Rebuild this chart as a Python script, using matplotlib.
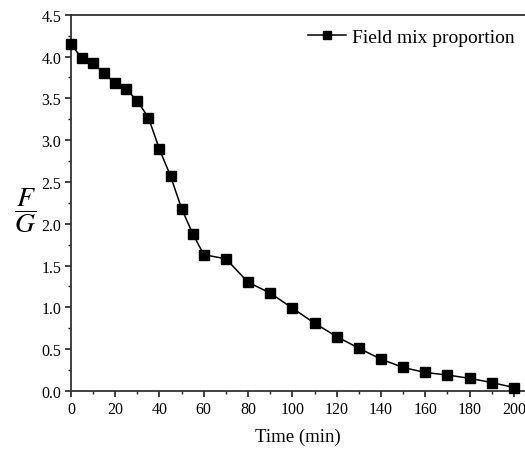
import matplotlib
matplotlib.use("Agg")
import matplotlib.pyplot as plt
from matplotlib.ticker import MultipleLocator

plt.rcParams['font.family'] = ['Liberation Serif', 'DejaVu Serif']
plt.rcParams['mathtext.fontset'] = 'stix'

# time (min) and F/G ratio
time = [0, 5, 10, 15, 20, 25, 30, 35, 40, 45, 50, 55, 60, 70, 80, 90,
        100, 110, 120, 130, 140, 150, 160, 170, 180, 190, 200]
ratio = [4.15, 3.98, 3.92, 3.80, 3.68, 3.61, 3.47, 3.27, 2.89, 2.57, 2.18,
         1.88, 1.63, 1.58, 1.30, 1.17, 0.99, 0.81, 0.65, 0.51, 0.38, 0.28,
         0.22, 0.19, 0.15, 0.10, 0.04]
label = "Field mix proportion"

fig = plt.figure(figsize=(5.25, 4.52), dpi=100)
ax = fig.add_axes([0.135, 0.133, 0.865, 0.832])

ax.plot(time, ratio, color="black", lw=1.1, marker="s", ms=7.5,
        label=label, clip_on=False, zorder=3)

ax.set_xlim(0, 205)
ax.set_ylim(0, 4.5)
ax.xaxis.set_major_locator(MultipleLocator(20))
ax.xaxis.set_minor_locator(MultipleLocator(10))
ax.yaxis.set_major_locator(MultipleLocator(0.5))
ax.yaxis.set_minor_locator(MultipleLocator(0.25))
ax.yaxis.set_major_formatter(matplotlib.ticker.FormatStrFormatter("%.1f"))

ax.tick_params(which="major", direction="out", length=4, width=1.2,
               labelsize=11.5, colors="#222222", labelcolor="black", pad=3)
ax.tick_params(which="minor", direction="out", length=2.5, width=1.0,
               colors="#222222")
for s in ["left", "bottom", "top"]:
    ax.spines[s].set_linewidth(1.3)
    ax.spines[s].set_color("#333333")
ax.spines["right"].set_visible(False)

ax.set_xlabel("Time (min)", fontsize=13.5, labelpad=8)
fig.text(0.048, 0.533, r"$\dfrac{F}{G}$", fontsize=20,
         ha="center", va="center")

leg = ax.legend(loc="upper right", frameon=False, fontsize=14,
                handlelength=2.0, handletextpad=0.3, borderaxespad=0.0,
                markerscale=0.75, bbox_to_anchor=(0.995, 0.985))

fig.savefig("out.png", dpi=100)
